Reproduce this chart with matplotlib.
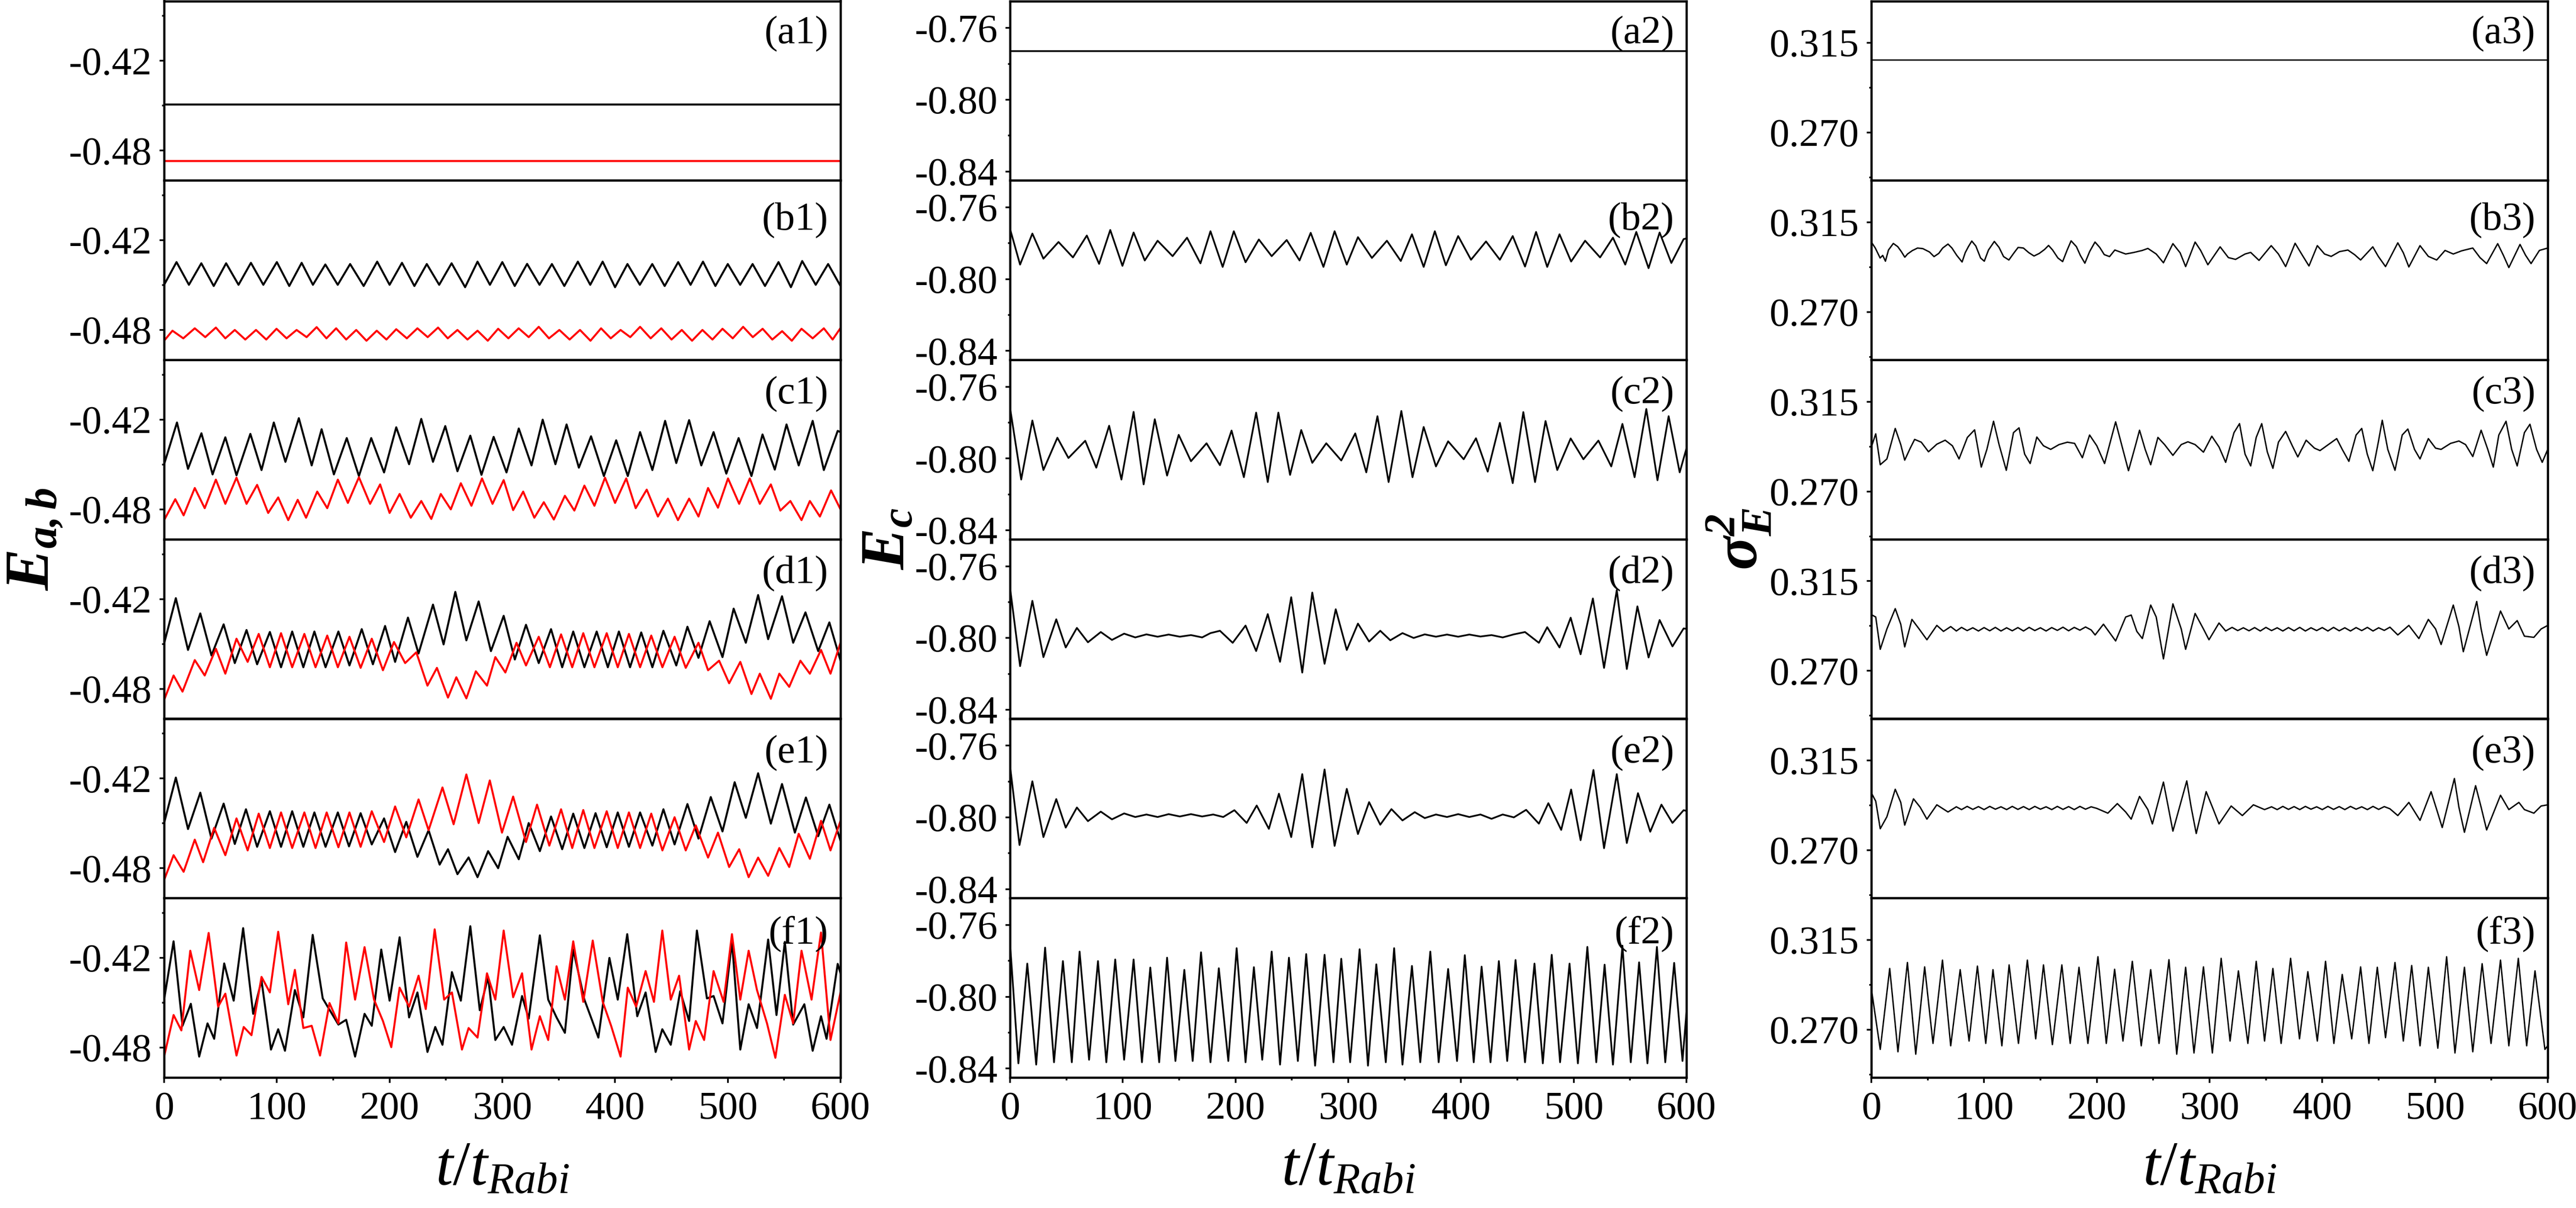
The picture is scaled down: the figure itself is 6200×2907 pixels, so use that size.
import numpy as np
import matplotlib
matplotlib.use("Agg")
import matplotlib.pyplot as plt
from matplotlib.ticker import MultipleLocator, FormatStrFormatter

plt.rcParams['font.family'] = ['Liberation Serif', 'DejaVu Serif']
plt.rcParams['mathtext.fontset'] = 'custom'
plt.rcParams['mathtext.rm'] = 'Liberation Serif'
plt.rcParams['mathtext.it'] = 'Liberation Serif:italic'
plt.rcParams['mathtext.bf'] = 'Liberation Serif:bold:italic'
plt.rcParams['axes.unicode_minus'] = False

# ---------------- data ----------------
T_RANGE = [0, 600]

# column 1 : E_a (black) and E_b (red)
A1_K = -0.449
A1_R = -0.487

B1_K_T = [0, 11, 22, 33, 44, 55, 66, 77, 88, 100, 111, 122, 132, 143, 154, 165, 177, 189, 200, 211,
          222, 233, 244, 255, 267, 278, 289, 300, 311, 322, 333, 344, 355, 367, 378, 389, 400, 411, 422, 433,
          444, 456, 467, 478, 489, 500, 511, 522, 533, 545, 556, 566, 578, 589, 600]
B1_K_V = [-0.4498, -0.4346, -0.4498, -0.4354, -0.4506, -0.4354, -0.4498, -0.4351, -0.4498, -0.4346,
          -0.4506, -0.4351, -0.4498, -0.4362, -0.4498, -0.4359, -0.4506, -0.4343, -0.4498, -0.4351,
          -0.4506, -0.4359, -0.4498, -0.4354, -0.4514, -0.4343, -0.4498, -0.4346, -0.4506, -0.4358,
          -0.4498, -0.4359, -0.4506, -0.4343, -0.4498, -0.4343, -0.4514, -0.4359, -0.4498, -0.4359,
          -0.4506, -0.4346, -0.4498, -0.4343, -0.4506, -0.4359, -0.4498, -0.4359, -0.4506, -0.4346,
          -0.4514, -0.4339, -0.4498, -0.4359, -0.4506]
B1_R_T = [0, 7.4, 17, 27.2, 36.5, 45.9, 54.3, 62.7, 72, 81.5, 90.6, 99.7, 108.6, 117.5, 126.4, 135.3, 144,
          152.6, 161.5, 170.4, 179.5, 188.6, 197.2, 205.9, 215.3, 224.7, 233.8, 243.0, 251.6, 260.2, 269.1,
          278.0, 287.1, 296.3, 305.4, 314.5, 323.4, 332.3, 341.4, 350.6, 359.7, 368.9, 378.2, 387.6, 396.2,
          404.9, 413.5, 422.2, 431.6, 441.0, 450.1, 459.2, 468.3, 477.5, 486.4, 495.3, 504.4, 513.6, 522.2,
          530.9, 539.5, 548.2, 556.8, 565.4, 575.3, 585.2, 593, 600]
B1_R_V = [-0.4872, -0.4805, -0.4856, -0.4789, -0.4848, -0.4784, -0.4856, -0.4800, -0.4864, -0.4800,
          -0.4864, -0.4792, -0.4856, -0.4800, -0.4848, -0.4781, -0.4856, -0.4789, -0.4864, -0.4800,
          -0.4872, -0.4805, -0.4864, -0.4795, -0.4856, -0.4789, -0.4848, -0.4784, -0.4856, -0.4800,
          -0.4864, -0.4805, -0.4872, -0.4792, -0.4856, -0.4789, -0.4848, -0.4779, -0.4856, -0.4800,
          -0.4864, -0.4800, -0.4872, -0.4789, -0.4856, -0.4800, -0.4848, -0.4779, -0.4856, -0.4789,
          -0.4864, -0.4800, -0.4872, -0.4800, -0.4864, -0.4792, -0.4856, -0.4779, -0.4848, -0.4792,
          -0.4864, -0.4808, -0.4872, -0.4792, -0.4856, -0.4789, -0.4864, -0.4787]

C1_K_T = [0, 11.4, 21.2, 33.1, 43.0, 54.3, 64.2, 76.5, 86.4, 97.3, 107.6, 119.5, 130.9, 139.7, 150.6,
          162.0, 172.8, 183.7, 195.1, 205.9, 217.3, 228.1, 238.5, 249.4, 260.2, 271.6, 281.5, 292.3,
          303.7, 314.6, 325.9, 335.8, 347.1, 357.0, 367.9, 378.7, 390.1, 401.0, 411.3, 422.2, 433.1,
          444.4, 454.3, 465.7, 476.5, 487.4, 498.7, 509.6, 521.0, 530.8, 541.7, 552.1, 562.9, 575.3,
          585.2, 597.5, 600]
C1_K_V = [-0.4498, -0.4219, -0.4529, -0.4291, -0.4566, -0.4318, -0.4572, -0.4295, -0.4537, -0.4219,
          -0.4482, -0.4190, -0.4506, -0.4264, -0.4566, -0.4323, -0.4577, -0.4323, -0.4553, -0.4251,
          -0.4498, -0.4195, -0.4482, -0.4243, -0.4545, -0.4307, -0.4569, -0.4315, -0.4553, -0.4259,
          -0.4506, -0.4200, -0.4498, -0.4232, -0.4521, -0.4311, -0.4577, -0.4338, -0.4577, -0.4283,
          -0.4537, -0.4208, -0.4490, -0.4203, -0.4506, -0.4283, -0.4561, -0.4323, -0.4577, -0.4299,
          -0.4534, -0.4232, -0.4506, -0.4208, -0.4537, -0.4275, -0.4283]
C1_R_T = [0, 9.9, 17.3, 27.2, 36.0, 45.9, 54.3, 64.2, 73.1, 82.5, 92.3, 101.2, 110.1, 118.5, 125.9,
          135.8, 144.7, 154.1, 163.0, 172.8, 182.7, 191.6, 200.0, 208.9, 218.8, 228.1, 237.0, 245.4,
          254.3, 263.2, 272.6, 282.0, 291.3, 301.2, 309.6, 318.5, 328.4, 336.8, 345.7, 355.5, 363.9,
          372.8, 381.7, 391.1, 400.0, 409.9, 418.3, 428.1, 438.0, 446.9, 455.8, 465.7, 474.0, 482.5,
          491.3, 500.2, 510.1, 519.5, 528.4, 538.2, 546.6, 555.5, 565.4, 572.8, 581.7, 591.6, 600]
C1_R_V = [-0.4872, -0.4732, -0.4840, -0.4657, -0.4792, -0.4601, -0.4763, -0.4588, -0.4763, -0.4636,
          -0.4824, -0.4720, -0.4872, -0.4736, -0.4856, -0.4681, -0.4792, -0.4601, -0.4757, -0.4585,
          -0.4763, -0.4633, -0.4824, -0.4697, -0.4856, -0.4744, -0.4864, -0.4697, -0.4800, -0.4625,
          -0.4776, -0.4593, -0.4763, -0.4604, -0.4805, -0.4681, -0.4856, -0.4752, -0.4868, -0.4709,
          -0.4808, -0.4641, -0.4776, -0.4588, -0.4757, -0.4593, -0.4792, -0.4668, -0.4848, -0.4728,
          -0.4872, -0.4728, -0.4848, -0.4657, -0.4789, -0.4593, -0.4763, -0.4593, -0.4763, -0.4633,
          -0.4808, -0.4744, -0.4872, -0.4744, -0.4848, -0.4673, -0.4800]

D1_K_T = [0, 10.4, 21.2, 32.1, 42.0, 52.8, 62.7, 73.1, 82.5, 93.8, 103.7, 113.6, 123.5, 133.3, 143.2,
          154.6, 164.4, 175.3, 185.2, 196.0, 204.9, 216.3, 225.7, 238.5, 247.9, 258.3, 268.1, 279.0,
          289.9, 301.2, 311.1, 321.0, 332.3, 343.2, 353.1, 362.9, 372.8, 383.7, 393.6, 403.4, 413.3,
          423.2, 433.1, 442.9, 454.3, 464.2, 474.0, 483.9, 495.3, 505.2, 516.0, 526.9, 535.8, 548.1,
          558.0, 568.9, 580.2, 590.1, 600]
D1_K_V = [-0.4497, -0.4194, -0.4540, -0.4296, -0.4577, -0.4369, -0.4628, -0.4407, -0.4636, -0.4420,
          -0.4656, -0.4417, -0.4656, -0.4417, -0.4656, -0.4417, -0.4644, -0.4401, -0.4636, -0.4380,
          -0.4620, -0.4324, -0.4564, -0.4237, -0.4503, -0.4152, -0.4476, -0.4216, -0.4548, -0.4312,
          -0.4604, -0.4372, -0.4628, -0.4401, -0.4656, -0.4417, -0.4656, -0.4417, -0.4656, -0.4417,
          -0.4656, -0.4423, -0.4656, -0.4412, -0.4644, -0.4385, -0.4593, -0.4348, -0.4588, -0.4264,
          -0.4492, -0.4173, -0.4468, -0.4181, -0.4492, -0.4289, -0.4548, -0.4356, -0.4612]
D1_R_T = [0, 8.4, 16.3, 27.2, 36.0, 45.9, 54.3, 64.2, 74.1, 83.9, 93.8, 103.7, 113.6, 124.4, 134.3,
          144.7, 154.1, 164.4, 174.3, 184.2, 194.1, 203.9, 213.8, 223.7, 233.6, 242.0, 251.8, 259.2,
          268.1, 276.5, 286.4, 293.8, 302.7, 312.6, 321.0, 332.3, 342.2, 352.1, 362.0, 371.8, 381.7,
          392.6, 402.4, 412.3, 422.2, 432.1, 442.0, 452.8, 462.7, 474.0, 482.5, 492.3, 501.2, 511.1,
          521.0, 528.4, 538.2, 545.7, 554.5, 564.4, 572.8, 582.7, 591.1, 600]
D1_R_V = [-0.4875, -0.4711, -0.4819, -0.4608, -0.4711, -0.4532, -0.4699, -0.4465, -0.4620, -0.4433,
          -0.4656, -0.4428, -0.4656, -0.4433, -0.4656, -0.4444, -0.4656, -0.4452, -0.4660, -0.4465,
          -0.4676, -0.4487, -0.4628, -0.4556, -0.4779, -0.4660, -0.4859, -0.4723, -0.4864, -0.4683,
          -0.4779, -0.4588, -0.4691, -0.4492, -0.4644, -0.4452, -0.4656, -0.4436, -0.4656, -0.4428,
          -0.4656, -0.4428, -0.4656, -0.4433, -0.4656, -0.4444, -0.4656, -0.4452, -0.4660, -0.4492,
          -0.4676, -0.4612, -0.4763, -0.4620, -0.4835, -0.4699, -0.4867, -0.4699, -0.4787, -0.4612,
          -0.4699, -0.4540, -0.4699, -0.4492]

E1_K_T = [0, 10.4, 21.2, 32.1, 42.0, 52.8, 62.7, 72.6, 82.5, 93.8, 103.7, 113.6, 123.5, 133.3, 143.2,
          154.1, 164.0, 174.3, 184.2, 195.1, 204.9, 214.8, 224.7, 234.6, 244.4, 251.8, 260.2, 270.1,
          278.0, 287.4, 296.3, 304.7, 314.6, 323.4, 333.3, 343.2, 353.1, 362.9, 372.8, 382.7, 392.6,
          402.4, 412.3, 422.2, 433.1, 442.9, 452.8, 464.2, 474.0, 484.9, 495.3, 506.1, 516.0, 526.9,
          538.2, 548.1, 559.5, 569.3, 580.2, 590.1, 600]
E1_K_V = [-0.4498, -0.4194, -0.4538, -0.4295, -0.4602, -0.4368, -0.4638, -0.4406, -0.4657, -0.4419,
          -0.4657, -0.4419, -0.4657, -0.4427, -0.4657, -0.4427, -0.4654, -0.4432, -0.4641, -0.4467,
          -0.4692, -0.4490, -0.4724, -0.4546, -0.4776, -0.4673, -0.4840, -0.4728, -0.4860, -0.4686,
          -0.4800, -0.4590, -0.4740, -0.4498, -0.4686, -0.4454, -0.4673, -0.4435, -0.4665, -0.4432,
          -0.4660, -0.4427, -0.4657, -0.4427, -0.4649, -0.4406, -0.4641, -0.4371, -0.4602, -0.4324,
          -0.4554, -0.4225, -0.4463, -0.4165, -0.4502, -0.4237, -0.4562, -0.4327, -0.4586, -0.4375,
          -0.4617]
E1_R_T = [0, 8.4, 17.3, 27.2, 34.6, 44.4, 54.3, 64.2, 74.1, 83.9, 93.8, 103.7, 113.6, 124.4, 134.3,
          144.2, 154.6, 164.4, 174.3, 184.2, 195.1, 204.9, 214.8, 225.7, 234.6, 246.9, 256.8, 268.1,
          279.0, 288.9, 299.7, 309.6, 321.0, 330.8, 341.7, 352.1, 362.0, 371.8, 381.7, 392.6, 402.4,
          412.3, 422.2, 432.1, 442.0, 452.8, 462.7, 471.6, 482.5, 491.3, 501.2, 510.1, 518.5, 526.9,
          535.8, 545.7, 554.5, 562.9, 572.8, 582.7, 591.1, 600]
E1_R_V = [-0.4879, -0.4713, -0.4824, -0.4609, -0.4760, -0.4530, -0.4713, -0.4467, -0.4681, -0.4435,
          -0.4665, -0.4427, -0.4665, -0.4427, -0.4665, -0.4427, -0.4660, -0.4427, -0.4657, -0.4419,
          -0.4625, -0.4387, -0.4594, -0.4340, -0.4546, -0.4260, -0.4506, -0.4173, -0.4498, -0.4213,
          -0.4562, -0.4321, -0.4625, -0.4375, -0.4649, -0.4406, -0.4665, -0.4411, -0.4665, -0.4419,
          -0.4665, -0.4427, -0.4665, -0.4435, -0.4681, -0.4459, -0.4681, -0.4514, -0.4729, -0.4562,
          -0.4792, -0.4673, -0.4860, -0.4729, -0.4851, -0.4665, -0.4792, -0.4570, -0.4737, -0.4483,
          -0.4681, -0.4483]

F1_K_T = [0, 8.4, 16.3, 23.7, 31.1, 38.5, 44.4, 53.3, 61.7, 70.1, 79.0, 86.4, 94.8, 101.2, 107.2,
          116.0, 123.5, 131.8, 140.7, 154.6, 161.5, 169.4, 177.8, 184.2, 192.6, 200.0, 208.9, 217.3,
          224.7, 233.6, 240.5, 246.9, 255.3, 263.2, 271.6, 280.0, 287.4, 293.8, 301.2, 308.6, 317.5,
          323.4, 333.3, 340.7, 348.1, 355.5, 362.9, 372.8, 379.2, 385.2, 395.0, 402.4, 410.8, 419.7,
          427.1, 436.0, 441.9, 449.4, 457.8, 465.7, 472.6, 481.5, 487.4, 495.3, 503.7, 511.1, 518.5,
          525.9, 535.8, 543.2, 550.6, 558.0, 567.9, 575.3, 582.7, 587.6, 597.5, 600]
F1_K_V = [-0.4479, -0.4089, -0.4654, -0.4507, -0.4860, -0.4638, -0.4741, -0.4237, -0.4486, -0.4001,
          -0.4574, -0.4351, -0.4813, -0.4677, -0.4821, -0.4415, -0.4598, -0.4046, -0.4471, -0.4646,
          -0.4614, -0.4860, -0.4574, -0.4654, -0.4144, -0.4486, -0.4062, -0.4598, -0.4431, -0.4829,
          -0.4662, -0.4781, -0.4295, -0.4486, -0.3988, -0.4550, -0.4327, -0.4749, -0.4662, -0.4781,
          -0.4455, -0.4606, -0.4049, -0.4479, -0.4598, -0.4701, -0.4144, -0.4479, -0.4609, -0.4733,
          -0.4200, -0.4479, -0.4041, -0.4590, -0.4431, -0.4829, -0.4677, -0.4781, -0.4423, -0.4622,
          -0.4017, -0.4471, -0.4455, -0.4638, -0.4089, -0.4813, -0.4510, -0.4669, -0.4077, -0.4582,
          -0.4093, -0.4646, -0.4510, -0.4821, -0.4590, -0.4741, -0.4240, -0.4303]
F1_R_T = [0, 8.4, 15.3, 23.2, 31.1, 39.5, 47.9, 54.3, 64.2, 70.6, 77.5, 86.4, 93.8, 101.2, 110.1,
          116.0, 123.5, 130.9, 138.3, 146.7, 154.6, 161.5, 169.4, 177.8, 186.2, 194.1, 201.5, 208.9,
          217.3, 225.7, 232.1, 240.0, 248.4, 255.3, 264.2, 270.1, 278.0, 286.4, 293.8, 301.2, 309.6,
          317.5, 325.9, 333.3, 340.7, 348.1, 355.5, 362.9, 371.8, 380.2, 389.1, 396.5, 404.9, 411.3,
          418.7, 427.1, 434.5, 441.9, 449.4, 456.8, 465.7, 471.6, 479.0, 487.4, 496.3, 503.7, 511.1,
          518.5, 525.9, 534.8, 542.2, 550.6, 558.0, 565.4, 574.3, 582.7, 591.1, 600]
F1_R_V = [-0.4860, -0.4582, -0.4685, -0.4152, -0.4415, -0.4033, -0.4526, -0.4439, -0.4853, -0.4662,
          -0.4717, -0.4327, -0.4431, -0.4025, -0.4510, -0.4280, -0.4669, -0.4654, -0.4853, -0.4502,
          -0.4638, -0.4097, -0.4479, -0.4128, -0.4479, -0.4622, -0.4797, -0.4399, -0.4526, -0.4319,
          -0.4542, -0.4009, -0.4479, -0.4431, -0.4813, -0.4669, -0.4733, -0.4303, -0.4479, -0.4017,
          -0.4463, -0.4303, -0.4813, -0.4590, -0.4749, -0.4256, -0.4479, -0.4089, -0.4494, -0.4084,
          -0.4494, -0.4654, -0.4860, -0.4399, -0.4526, -0.4288, -0.4494, -0.4017, -0.4479, -0.4319,
          -0.4813, -0.4622, -0.4749, -0.4288, -0.4494, -0.4041, -0.4479, -0.4152, -0.4415, -0.4638,
          -0.4868, -0.4447, -0.4638, -0.4152, -0.4479, -0.4030, -0.4749, -0.4431]

# column 2 : E_c
A2 = -0.773
B2_T = [0, 8.9, 19.8, 29.6, 43.0, 55.8, 68.1, 79.0, 88.9, 99.7, 109.6, 119.5, 130.9, 144.2, 157.0,
        168.9, 177.8, 188.6, 198.5, 208.9, 220.7, 232.1, 245.4, 256.8, 266.7, 278.0, 287.9, 298.7,
        308.6, 321.0, 334.3, 346.6, 356.5, 366.9, 376.8, 386.6, 397.5, 408.9, 422.2, 434.5, 445.9,
        456.8, 466.6, 476.5, 487.4, 497.7, 510.1, 523.4, 534.8, 545.7, 555.5, 566.4, 576.2, 586.6,
        597.5, 600]
B2_V = [-0.7720, -0.7919, -0.7746, -0.7886, -0.7793, -0.7879, -0.7757, -0.7915, -0.7726, -0.7926,
        -0.7740, -0.7896, -0.7786, -0.7872, -0.7769, -0.7912, -0.7733, -0.7932, -0.7733, -0.7906,
        -0.7779, -0.7872, -0.7782, -0.7896, -0.7742, -0.7932, -0.7733, -0.7919, -0.7766, -0.7882,
        -0.7786, -0.7899, -0.7750, -0.7932, -0.7733, -0.7923, -0.7760, -0.7892, -0.7790, -0.7892,
        -0.7760, -0.7930, -0.7737, -0.7932, -0.7750, -0.7902, -0.7786, -0.7879, -0.7769, -0.7919,
        -0.7737, -0.7939, -0.7740, -0.7910, -0.7777, -0.7773]
C2_T = [0, 9.9, 19.8, 29.6, 42.0, 51.8, 66.7, 76.5, 87.9, 98.8, 109.6, 118.5, 128.4, 139.3, 149.6,
        160.5, 174.3, 186.2, 196.5, 207.4, 218.3, 228.6, 238.0, 248.4, 258.3, 268.1, 280.5, 293.8,
        306.2, 316.0, 325.9, 335.8, 347.1, 357.0, 366.9, 377.8, 388.6, 402.4, 413.3, 423.7, 434.5,
        445.9, 455.3, 465.7, 475.0, 485.4, 497.3, 508.6, 521.9, 533.3, 543.2, 554.0, 564.4, 574.3,
        584.2, 594.0, 600]
C2_V = [-0.7717, -0.8117, -0.7788, -0.8064, -0.7884, -0.7997, -0.7901, -0.8051, -0.7817, -0.8117,
        -0.7740, -0.8144, -0.7781, -0.8095, -0.7868, -0.8015, -0.7915, -0.8037, -0.7844, -0.8104,
        -0.7744, -0.8131, -0.7744, -0.8091, -0.7841, -0.8024, -0.7915, -0.8011, -0.7860, -0.8077,
        -0.7764, -0.8131, -0.7735, -0.8104, -0.7824, -0.8044, -0.7904, -0.8004, -0.7887, -0.8073,
        -0.7801, -0.8137, -0.7741, -0.8131, -0.7791, -0.8064, -0.7888, -0.8004, -0.7900, -0.8044,
        -0.7807, -0.8104, -0.7724, -0.8121, -0.7764, -0.8077, -0.7944]
D2_T = [0, 8.9, 19.8, 29.6, 41.0, 49.4, 59.3, 69.1, 80.5, 90.4, 101.2, 111.1, 121.0, 130.9, 140.7,
        150.6, 160.5, 170.4, 177.8, 186.2, 197.5, 208.9, 218.3, 228.6, 239.5, 249.4, 259.2, 268.1,
        279.0, 288.9, 298.7, 308.6, 318.5, 328.4, 337.3, 348.1, 358.0, 367.9, 377.8, 387.6, 397.5,
        407.4, 417.3, 427.1, 437.0, 446.9, 456.8, 469.1, 476.5, 487.4, 497.3, 506.1, 517.0, 526.9,
        538.2, 547.1, 556.5, 566.4, 576.2, 587.6, 597.5, 600]
D2_V = [-0.7720, -0.8157, -0.7793, -0.8107, -0.7896, -0.8053, -0.7944, -0.8024, -0.7967, -0.8011,
        -0.7976, -0.7997, -0.7980, -0.7993, -0.7981, -0.7993, -0.7984, -0.7997, -0.7973, -0.7960,
        -0.8027, -0.7931, -0.8073, -0.7867, -0.8133, -0.7773, -0.8193, -0.7747, -0.8144, -0.7840,
        -0.8067, -0.7920, -0.8020, -0.7960, -0.8013, -0.7973, -0.8000, -0.7980, -0.7993, -0.7981,
        -0.7993, -0.7981, -0.7992, -0.7984, -0.7997, -0.7980, -0.7967, -0.8027, -0.7940, -0.8053,
        -0.7887, -0.8091, -0.7780, -0.8167, -0.7733, -0.8173, -0.7824, -0.8109, -0.7900, -0.8047,
        -0.7947, -0.7949]
E2_T = [0, 8.4, 19.8, 29.6, 41.0, 49.4, 59.3, 69.1, 80.5, 90.4, 101.2, 111.1, 121.0, 130.9, 140.7,
        150.6, 160.5, 170.4, 180.2, 189.1, 199.0, 209.9, 218.8, 229.6, 238.5, 249.4, 259.2, 268.1,
        279.0, 287.9, 298.7, 308.6, 318.5, 328.4, 338.3, 348.1, 359.0, 367.9, 377.8, 387.6, 397.5,
        407.4, 417.3, 427.1, 437.0, 446.9, 457.8, 469.1, 477.5, 488.9, 497.7, 506.1, 517.5, 526.9,
        538.2, 547.1, 557.0, 567.9, 577.8, 587.6, 597.5, 600]
E2_V = [-0.7713, -0.8154, -0.7799, -0.8110, -0.7898, -0.8057, -0.7945, -0.8021, -0.7968, -0.8011,
        -0.7978, -0.7998, -0.7984, -0.7998, -0.7982, -0.7995, -0.7982, -0.7995, -0.7984, -0.7998,
        -0.7960, -0.8031, -0.7934, -0.8064, -0.7868, -0.8110, -0.7759, -0.8167, -0.7733, -0.8159,
        -0.7841, -0.8093, -0.7915, -0.8041, -0.7954, -0.8017, -0.7971, -0.8004, -0.7984, -0.7998,
        -0.7982, -0.7998, -0.7984, -0.8008, -0.7984, -0.8000, -0.7958, -0.8035, -0.7921, -0.8070,
        -0.7845, -0.8127, -0.7736, -0.8172, -0.7759, -0.8143, -0.7865, -0.8080, -0.7929, -0.8031,
        -0.7960, -0.7964]
F2_T = [0, 7.4, 15.3, 23.2, 31.1, 39.0, 46.9, 54.8, 61.7, 70.1, 78.0, 85.4, 93.3, 101.2, 109.6,
        117.0, 124.4, 132.3, 139.3, 146.7, 154.6, 162.0, 169.4, 177.8, 185.2, 193.6, 201.0, 208.9,
        216.3, 223.7, 232.1, 239.5, 247.4, 255.3, 262.7, 270.6, 279.0, 286.9, 293.8, 301.7, 310.1,
        317.5, 324.9, 333.3, 340.7, 348.1, 356.5, 363.9, 372.8, 380.2, 388.6, 396.5, 403.4, 411.3,
        418.3, 426.2, 433.6, 441.0, 448.4, 456.8, 465.2, 472.6, 480.5, 487.9, 496.3, 503.7, 512.1,
        520.0, 527.4, 534.8, 543.2, 550.6, 558.0, 565.4, 573.8, 581.2, 589.1, 596.5, 600]
F2_V = [-0.7702, -0.8371, -0.7815, -0.8378, -0.7726, -0.8365, -0.7801, -0.8365, -0.7748, -0.8351,
        -0.7801, -0.8365, -0.7792, -0.8351, -0.7792, -0.8365, -0.7837, -0.8365, -0.7782, -0.8358,
        -0.7850, -0.8358, -0.7752, -0.8365, -0.7841, -0.8358, -0.7729, -0.8365, -0.7835, -0.8351,
        -0.7748, -0.8378, -0.7782, -0.8358, -0.7762, -0.8384, -0.7766, -0.8365, -0.7788, -0.8365,
        -0.7735, -0.8384, -0.7819, -0.8365, -0.7729, -0.8378, -0.7828, -0.8365, -0.7748, -0.8365,
        -0.7845, -0.8358, -0.7768, -0.8365, -0.7832, -0.8365, -0.7801, -0.8358, -0.7795, -0.8365,
        -0.7815, -0.8371, -0.7766, -0.8365, -0.7815, -0.8371, -0.7722, -0.8365, -0.7821, -0.8378,
        -0.7715, -0.8365, -0.7808, -0.8371, -0.7722, -0.8365, -0.7811, -0.8358, -0.8086]

# column 3 : sigma_E^2
A3 = 0.3066
B3_T = [0, 3.5, 7.8, 10.1, 12.5, 15.2, 19.5, 23.4, 26.5, 29.7, 32.1, 36.3, 41.0, 45.7, 51.6, 55.6,
        59.8, 63.3, 68.0, 71.5, 75.8, 80.5, 83.3, 86.1, 89.1, 92.7, 96.9, 100.2, 103.9, 109.1, 113.3,
        117.3, 122.0, 126.7, 130.2, 134.9, 139.6, 144.3, 149.0, 153.7, 157.2, 160.8, 165.5, 169.7,
        173.7, 177.2, 181.9, 185.4, 189.4, 193.7, 198.4, 202.6, 206.6, 211.3, 216.0,
        225.6, 233.0, 240.4, 245.3, 252.7, 259.1, 267.5, 273.9, 278.8, 287.2, 292.1, 298.5, 309.4,
        316.7, 323.1, 331.5, 336.5, 343.9, 354.7, 361.1, 367.5, 375.9, 382.3, 388.2, 395.6, 402.0,
        407.9, 415.3, 422.7, 428.6, 434.0, 444.8, 449.7, 456.1, 467.0, 471.9, 476.8, 486.7, 494.1,
        501.5, 508.9, 516.2, 523.6, 533.5, 539.9, 545.8, 555.6, 560.6, 565.5, 575.4, 580.3, 585.2,
        592.6, 600.0]
B3_V = [0.3051, 0.3021, 0.2971, 0.2984, 0.2955, 0.3011, 0.3044, 0.3028, 0.3004, 0.2975,
        0.2991, 0.3008, 0.3021, 0.3018, 0.3001, 0.2978, 0.2994, 0.3021, 0.3041, 0.3021,
        0.2984, 0.2951, 0.2998, 0.3028, 0.3056, 0.3031, 0.2971, 0.2955, 0.3011, 0.3054,
        0.3024, 0.2978, 0.2961, 0.2998, 0.3024, 0.3021, 0.2998, 0.2981, 0.2994, 0.3014,
        0.3034, 0.3011, 0.2971, 0.2953, 0.3011, 0.3057, 0.3028, 0.2984, 0.2945, 0.3004,
        0.3051, 0.3024, 0.2988, 0.2978, 0.3011,
        0.2991, 0.2999, 0.3009, 0.3019, 0.2991, 0.2947, 0.3043, 0.2997, 0.2928, 0.3051,
        0.3009, 0.2937, 0.3027, 0.2973, 0.2964, 0.2991, 0.2999, 0.2959, 0.3033, 0.2991,
        0.2928, 0.3045, 0.2985, 0.2931, 0.3033, 0.2991, 0.2979, 0.3003, 0.3011, 0.2988,
        0.2961, 0.3027, 0.2979, 0.2928, 0.3047, 0.2997, 0.2926, 0.3033, 0.2979, 0.2961,
        0.3009, 0.2991, 0.3007, 0.3021, 0.2973, 0.2943, 0.3043, 0.2985, 0.2923, 0.3039,
        0.2985, 0.2943, 0.3009, 0.3021]
C3_T = [0, 3.9, 7.9, 13.8, 21.2, 26.1, 29.6, 34.5, 38.4, 44.3, 50.7, 58.1, 65.5, 71.9, 77.8, 85.2,
        91.6, 97.5, 102.5, 108.4, 113.3, 119.7, 126.1, 131.0, 136.0, 140.9, 146.8, 152.7, 159.1,
        166.5, 173.9, 180.3, 187.2, 193.6, 200.0, 206.9, 213.3, 216.7, 223.1, 228.1, 234.5, 237.9,
        242.9, 247.8, 254.2, 260.1, 267.5, 274.9, 280.8, 287.2, 294.6, 302.0, 308.4, 314.3, 321.7,
        326.6, 331.5, 336.5, 341.4, 346.3, 351.2, 356.2, 361.1, 367.5, 373.4, 378.3, 385.7, 393.1,
        398.0, 405.4, 412.8, 417.7, 423.6, 430.0, 435.0, 439.9, 444.8, 449.7, 453.2, 458.1, 464.5,
        470.9, 475.9, 481.8, 486.7, 494.1, 500.5, 505.4, 513.8, 521.2, 527.1, 533.5, 540.9, 546.8,
        551.7, 556.6, 563.0, 568.0, 572.9, 579.3, 584.2, 590.1, 595.1, 600]
C3_V = [0.2923, 0.2989, 0.2834, 0.2863, 0.3016, 0.2935, 0.2857, 0.2917, 0.2961, 0.2947,
        0.2899, 0.2937, 0.2957, 0.2929, 0.2863, 0.2971, 0.3009, 0.2822, 0.2911, 0.3052,
        0.2935, 0.2806, 0.2995, 0.3019, 0.2887, 0.2840, 0.2973, 0.2929, 0.2911, 0.2935,
        0.2947, 0.2941, 0.2869, 0.2983, 0.2929, 0.2840, 0.2977, 0.3049, 0.2911, 0.2804,
        0.2935, 0.3007, 0.2911, 0.2834, 0.2971, 0.2935, 0.2881, 0.2935, 0.2949, 0.2935,
        0.2897, 0.2977, 0.2923, 0.2846, 0.2995, 0.3040, 0.2887, 0.2828, 0.2971, 0.3040,
        0.2899, 0.2816, 0.2947, 0.3001, 0.2929, 0.2873, 0.2957, 0.2917, 0.2905, 0.2935,
        0.2965, 0.2911, 0.2851, 0.2983, 0.3016, 0.2887, 0.2804, 0.2947, 0.3057, 0.2911,
        0.2806, 0.2983, 0.3013, 0.2911, 0.2863, 0.2965, 0.2917, 0.2911, 0.2941, 0.2953,
        0.2935, 0.2875, 0.3007, 0.2911, 0.2822, 0.2983, 0.3052, 0.2911, 0.2828, 0.2995,
        0.3037, 0.2911, 0.2846, 0.2911]
D3_T = [0, 3.9, 7.9, 13.8, 21.2, 26.1, 29.6, 36.0, 42.4, 49.3, 58.1, 64.0, 70.4, 75.4,
        80, 85, 90, 95, 100, 105, 110, 115, 120, 125, 130, 135, 140, 145, 150, 155, 160, 165, 170,
        175, 180, 185, 190, 195,
        198.5, 205.9, 216.7, 225.6, 230.5, 235.5, 240.4, 247.8, 252.7, 259.1, 267.5, 274.9, 278.8,
        287.2, 294.6, 299.5, 308.4, 314.3,
        320, 325, 330, 335, 340, 345, 350, 355, 360, 365, 370, 375, 380, 385, 390, 395, 400, 405, 410,
        415, 420, 425, 430, 435, 440, 445, 450, 455, 460,
        467.0, 476.8, 485.7, 494.1, 500.5, 505.4, 516.2, 521.2, 525.1, 537.0, 540.9, 545.8, 558.1,
        565.5, 572.9, 579.3, 587.7, 594.1, 600]
D3_V = [0.2982, 0.2970, 0.2808, 0.2910, 0.3012, 0.2934, 0.2820, 0.2958, 0.2910, 0.2856, 0.2928,
        0.2898, 0.2922, 0.2900,
        0.2918, 0.2902, 0.2916, 0.2900, 0.2917, 0.2901, 0.2918, 0.2900, 0.2916, 0.2901, 0.2917,
        0.2900, 0.2918, 0.2902, 0.2916, 0.2900, 0.2917, 0.2903, 0.2919, 0.2901, 0.2918, 0.2904,
        0.2920, 0.2905,
        0.2880, 0.2934, 0.2850, 0.2970, 0.2980, 0.2898, 0.2862, 0.3030, 0.2970, 0.2760, 0.3036,
        0.2910, 0.2808, 0.2988, 0.2910, 0.2856, 0.2940, 0.2900,
        0.2918, 0.2902, 0.2916, 0.2901, 0.2917, 0.2900, 0.2918, 0.2902, 0.2916, 0.2900, 0.2917,
        0.2901, 0.2918, 0.2900, 0.2916, 0.2902, 0.2917, 0.2900, 0.2918, 0.2901, 0.2916, 0.2900,
        0.2917, 0.2902, 0.2918, 0.2900, 0.2916, 0.2903, 0.2919,
        0.2880, 0.2928, 0.2862, 0.2958, 0.2910, 0.2832, 0.3030, 0.2922, 0.2796, 0.3048, 0.2910,
        0.2778, 0.3000, 0.2910, 0.2952, 0.2874, 0.2868, 0.2910, 0.2928]
E3_T = [0, 3.9, 7.9, 13.8, 21.2, 26.1, 29.6, 37.4, 43.3, 49.3, 58.1, 68.0, 75.4,
        80, 85, 90, 95, 100, 105, 110, 115, 120, 125, 130, 135, 140, 145, 150, 155, 160, 165, 170,
        175, 180, 185, 190, 195, 200,
        209.8, 218.2, 225.6, 230.5, 237.9, 245.3, 249.3, 259.1, 262.6, 267.5, 279.8, 283.7, 288.2,
        297.0, 303.4, 308.4, 319.2, 329.1, 338.9, 348.8,
        355, 360, 365, 370, 375, 380, 385, 390, 395, 400, 405, 410, 415, 420, 425, 430, 435, 440,
        445, 450, 455, 460,
        467.0, 476.8, 486.7, 496.5, 501.5, 506.4, 517.2, 521.2, 526.1, 536.0, 540.9, 545.8, 558.1,
        565.5, 574.4, 579.3, 587.7, 594.1, 600]
E3_V = [0.2988, 0.2946, 0.2808, 0.2868, 0.3006, 0.2940, 0.2826, 0.2958, 0.2916, 0.2856, 0.2928,
        0.2892, 0.2918,
        0.2904, 0.2920, 0.2905, 0.2919, 0.2904, 0.2920, 0.2906, 0.2918, 0.2904, 0.2920, 0.2905,
        0.2919, 0.2904, 0.2920, 0.2906, 0.2918, 0.2904, 0.2920, 0.2905, 0.2919, 0.2904, 0.2920,
        0.2906, 0.2918, 0.2910,
        0.2886, 0.2934, 0.2892, 0.2856, 0.2970, 0.2904, 0.2832, 0.3042, 0.2940, 0.2796, 0.3048,
        0.2916, 0.2784, 0.2994, 0.2904, 0.2832, 0.2922, 0.2874, 0.2928, 0.2904,
        0.2918, 0.2904, 0.2920, 0.2905, 0.2919, 0.2904, 0.2920, 0.2906, 0.2918, 0.2904, 0.2920,
        0.2905, 0.2919, 0.2904, 0.2920, 0.2906, 0.2918, 0.2904, 0.2920, 0.2905, 0.2919, 0.2908,
        0.2874, 0.2940, 0.2850, 0.2994, 0.2904, 0.2814, 0.3060, 0.2916, 0.2790, 0.3024, 0.2916,
        0.2802, 0.2976, 0.2904, 0.2940, 0.2904, 0.2886, 0.2922, 0.2928]
F3_T = [0, 7.9, 16.3, 23.6, 32.0, 39.4, 47.3, 54.7, 63.1, 70.4, 78.8, 86.7, 94.1, 101.5, 107.9,
        115.8, 122.2, 130.5, 138.4, 145.8, 152.7, 160.6, 169.0, 176.4, 184.2, 192.1, 201.0, 208.4,
        215.8, 223.2, 231.5, 239.4, 247.8, 255.2, 264.0, 270.9, 278.8, 286.2, 294.6, 302.5, 310.3,
        318.2, 325.6, 334.0, 341.4, 348.8, 356.2, 363.5, 371.9, 379.8, 387.2, 395.6, 402.9, 410.3,
        417.7, 426.1, 434.0, 441.4, 448.8, 456.1, 464.5, 471.9, 479.3, 486.7, 494.1, 502.5, 510.3,
        517.7, 526.1, 533.5, 541.8, 549.7, 558.1, 565.5, 573.9, 581.3, 588.7, 597.5, 600]
F3_V = [0.2905, 0.2601, 0.3007, 0.2589, 0.3037, 0.2577, 0.3015, 0.2631, 0.3049, 0.2619, 0.3001,
        0.2643, 0.3019, 0.2631, 0.3001, 0.2619, 0.3025, 0.2631, 0.3049, 0.2654, 0.3025, 0.2625,
        0.3025, 0.2631, 0.3013, 0.2631, 0.3066, 0.2631, 0.3003, 0.2643, 0.3043, 0.2619, 0.3001,
        0.2631, 0.3051, 0.2577, 0.3013, 0.2583, 0.3015, 0.2583, 0.3058, 0.2643, 0.2995, 0.2631,
        0.3043, 0.2643, 0.3007, 0.2631, 0.3058, 0.2654, 0.2991, 0.2643, 0.3043, 0.2631, 0.2977,
        0.2654, 0.3015, 0.2631, 0.3013, 0.2660, 0.3037, 0.2643, 0.3022, 0.2619, 0.3013, 0.2607,
        0.3066, 0.2583, 0.3013, 0.2589, 0.3031, 0.2631, 0.3049, 0.2619, 0.3058, 0.2619, 0.2995,
        0.2601, 0.2620]

ROW_NAMES = ['a', 'b', 'c', 'd', 'e', 'f']
COL1 = [None, (B1_K_T, B1_K_V, B1_R_T, B1_R_V), (C1_K_T, C1_K_V, C1_R_T, C1_R_V),
        (D1_K_T, D1_K_V, D1_R_T, D1_R_V), (E1_K_T, E1_K_V, E1_R_T, E1_R_V),
        (F1_K_T, F1_K_V, F1_R_T, F1_R_V)]
COL2 = [None, (B2_T, B2_V), (C2_T, C2_V), (D2_T, D2_V), (E2_T, E2_V), (F2_T, F2_V)]
COL3 = [None, (B3_T, B3_V), (C3_T, C3_V), (D3_T, D3_V), (E3_T, E3_V), (F3_T, F3_V)]

# ---------------- layout ----------------
W, H, DPI = 6200, 2907, 300
fig = plt.figure(figsize=(W / DPI, H / DPI), dpi=DPI)
COL_LEFT = [395, 2431, 4504]
COL_W = 1628
TOP, BOT = 2.5, 2593
PH = (BOT - TOP) / 6

YLIMS = [(-0.50, -0.38), (-0.845, -0.745), (0.246, 0.336)]
MAJ = [0.06, 0.04, 0.045]
MINR = [0.03, 0.02, 0.0225]
FMT = ['%.2f', '%.2f', '%.3f']
LW = [1.15, 1.0, 0.8]
LABEL_Y = [0.82, 0.78, 0.81, 0.81, 0.81, 0.80]


def draw(ax, t, v, color, lw):
    n = min(len(t), len(v))
    ax.plot(t[:n], v[:n], color=color, lw=lw, solid_joinstyle='round')


for c in range(3):
    for r in range(6):
        rect = [COL_LEFT[c] / W, 1 - (TOP + (r + 1) * PH) / H, COL_W / W, PH / H]
        ax = fig.add_axes(rect)
        if c == 0:
            if r == 0:
                ax.plot(T_RANGE, [A1_K, A1_K], color='black', lw=LW[0])
                ax.plot(T_RANGE, [A1_R, A1_R], color='red', lw=LW[0])
            else:
                kt, kv, rt, rv = COL1[r]
                draw(ax, kt, kv, 'black', LW[0])
                draw(ax, rt, rv, 'red', LW[0])
        elif c == 1:
            if r == 0:
                ax.plot(T_RANGE, [A2, A2], color='black', lw=LW[1])
            else:
                draw(ax, COL2[r][0], COL2[r][1], 'black', LW[1])
        else:
            if r == 0:
                ax.plot(T_RANGE, [A3, A3], color='black', lw=LW[2])
            else:
                draw(ax, COL3[r][0], COL3[r][1], 'black', LW[2])

        ax.set_xlim(0, 600)
        ax.set_ylim(*YLIMS[c])
        ax.yaxis.set_major_locator(MultipleLocator(MAJ[c]))
        ax.yaxis.set_minor_locator(MultipleLocator(MINR[c]))
        ax.yaxis.set_major_formatter(FormatStrFormatter(FMT[c]))
        ax.xaxis.set_major_locator(MultipleLocator(100))
        ax.xaxis.set_minor_locator(MultipleLocator(50))
        for sp in ax.spines.values():
            sp.set_linewidth(1.3)
        ax.tick_params(axis='y', which='major', direction='out', length=2.6, width=1.0,
                       pad=4.5, labelsize=23, right=False)
        ax.tick_params(axis='y', which='minor', direction='out', length=1.3, width=1.0, right=False)
        last = (r == 5)
        ax.tick_params(axis='x', which='major', direction='out', length=3.0, width=1.0, pad=5,
                       labelsize=23, bottom=last, labelbottom=last, top=False)
        ax.tick_params(axis='x', which='minor', direction='out', length=1.7, width=1.0,
                       bottom=last, top=False)
        ax.text(0.982, LABEL_Y[r], '(%s%d)' % (ROW_NAMES[r], c + 1), transform=ax.transAxes,
                ha='right', va='center', fontsize=23)

# axis labels
ymid = 1 - ((TOP + BOT) / 2) / H
fig.text(85 / W, ymid, r'$\mathbf{E}_{\mathbf{a,b}}$', rotation=90, ha='center', va='center', fontsize=36)
fig.text(2140 / W, ymid, r'$\mathbf{E}_{\mathbf{c}}$', rotation=90, ha='center', va='center', fontsize=36)
fig.text(4185 / W, ymid, r'$\mathbf{\sigma}_{\mathbf{E}}^{\mathbf{2}}$', rotation=90, ha='center',
         va='center', fontsize=36)
for c in range(3):
    fig.text((COL_LEFT[c] + COL_W / 2) / W, 1 - 2815 / H, r'$t/t_{Rabi}$', ha='center', va='center',
             fontsize=36)

fig.savefig('out.png', dpi=DPI)
